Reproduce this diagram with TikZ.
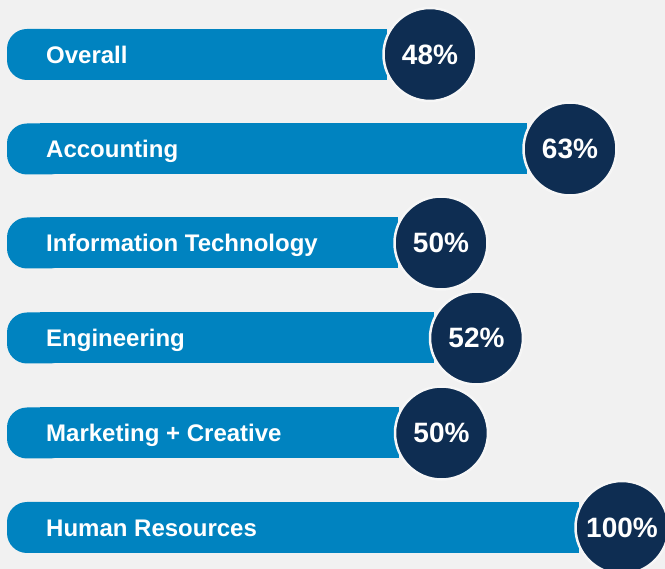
\documentclass[tikz,border=0pt]{standalone}
\usepackage{fontspec}
\setmainfont{Liberation Sans}
\definecolor{bgc}{HTML}{F1F1F1}
\definecolor{barc}{HTML}{0083C0}
\definecolor{navy}{HTML}{0E2D52}
\definecolor{ringc}{HTML}{F6F6F6}
\begin{document}
\begin{tikzpicture}[x=1pt,y=-1pt,
  lbl/.style={anchor=base west,text=white,font=\fontsize{24}{28}\selectfont\bfseries,inner sep=0pt},
  pct/.style={circle,fill=navy,draw=ringc,line width=2.5pt,minimum size=93pt,inner sep=0pt,
    text=white,font=\fontsize{28}{32}\selectfont\bfseries},
  pcttext/.style={anchor=base,text=white,font=\fontsize{28}{32}\selectfont\bfseries,inner sep=0pt}]
\fill[bgc] (0,0) rectangle (665,569);
\useasboundingbox (0,0) rectangle (665,569);
\foreach \cy/\cx/\name/\txt/\val [count=\i] in {
  54.5/430/ov/Overall/48\%,
  149/570/ac/Accounting/63\%,
  243/441/it/Information Technology/50\%,
  338/476.5/en/Engineering/52\%,
  433/441.5/mk/Marketing + Creative/50\%,
  527.5/622/hr/Human Resources/100\%}{
  \fill[barc,rounded corners=20pt] (7,\cy-25.5) rectangle (70,\cy+25.5);
  \fill[barc] (40,\cy-25.5) rectangle (\cx-43,\cy+25.5);
  \node[lbl] (l\name) at (46,\cy+8.6) {\txt};
  \node[pct] (c\name) at (\cx,\cy) {};
  \node[pcttext] (p\name) at (\cx,\cy+10) {\val};
}
\end{tikzpicture}
\end{document}
